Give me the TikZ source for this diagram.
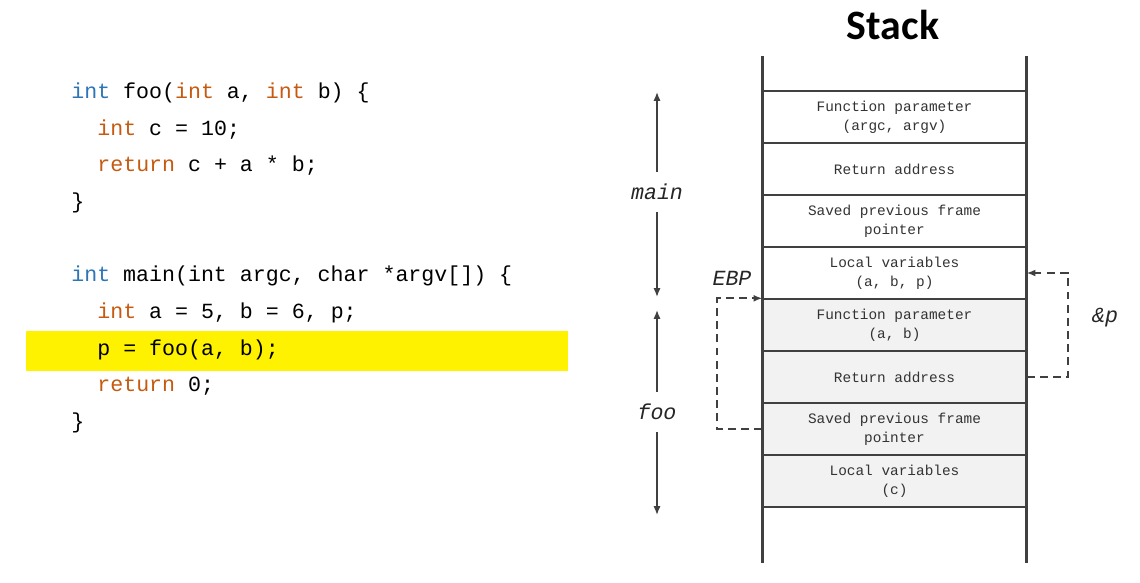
\documentclass[tikz,border=0pt]{standalone}
\usepackage{fontspec}
\setmainfont{Carlito}
\setmonofont{Liberation Mono}
\usetikzlibrary{arrows.meta,positioning}
\definecolor{kwblue}{RGB}{46,117,182}
\definecolor{kworange}{RGB}{197,90,17}
\definecolor{txtgray}{RGB}{64,64,64}
\definecolor{cellgray}{RGB}{242,242,242}
\tikzstyle{maincell} = [draw=txtgray, line width=0.8pt, fill=white, text=black!80, align=center, minimum width=5.26cm, minimum height=1.04cm, inner sep=0pt, font=\ttfamily\fontsize{8.2}{10.8}\selectfont]
\tikzstyle{foocell} = [maincell, fill=cellgray]
\tikzstyle{wall} = [draw, line width=2pt, color=txtgray]
\tikzstyle{span} = [draw, line width=0.8pt, color=txtgray, -{Latex[length=5pt,width=4pt]}]
\tikzstyle{link} = [draw, line width=1.1pt, color=black!75, dash pattern=on 4.5pt off 3pt, -{Latex[length=5pt,width=4pt]}]
\tikzstyle{code} = [anchor=base west, inner sep=0pt, font=\ttfamily\fontsize{12.3}{14}\selectfont]
\tikzstyle{lbl} = [inner sep=0pt, text=black!85, font=\ttfamily\itshape\fontsize{12.3}{14}\selectfont]
\tikzstyle{hilite} = [fill=yellow, minimum width=10.84cm, minimum height=0.8cm, inner sep=0pt]
\newcommand{\kwb}[1]{\textcolor{kwblue}{#1}}
\newcommand{\kwo}[1]{\textcolor{kworange}{#1}}
\newcommand{\mcell}[2]{node (m#1) [maincell] {#2}}
\newcommand{\fcell}[2]{node (f#1) [foocell] {#2}}
\begin{document}
\begin{tikzpicture}[x=0.02cm, y=-0.02cm]
\useasboundingbox (0,0) rectangle (1140,582);

% Source code
\node[hilite] (hl) at (297,351) {};
\node[code] (c1) at (71,98) {\kwb{int} foo(\kwo{int} a, \kwo{int} b) \{};
\node[code] (c2) at (97,135) {\kwo{int} c = 10;};
\node[code] (c3) at (97,171.5) {\kwo{return} c + a * b;};
\node[code] (c4) at (71,208) {\}};
\node[code] (c5) at (71,281) {\kwb{int} main(int argc, char *argv[]) \{};
\node[code] (c6) at (97,318) {\kwo{int} a = 5, b = 6, p;};
\node[code] (c7) at (97,355) {p = foo(a, b);};
\node[code] (c8) at (97,391.5) {\kwo{return} 0;};
\node[code] (c9) at (71,428) {\}};

% Stack frames
\node[font=\bfseries\fontsize{23.8}{28}\selectfont] (title) at (893,25) {Stack};
\path (894.5,117) \mcell{1}{Function parameter\\(argc, argv)};
\path (m1)+(0,52) \mcell{2}{Return address};
\path (m2)+(0,52) \mcell{3}{Saved previous frame\\pointer};
\path (m3)+(0,52) \mcell{4}{Local variables\\(a, b, p)};
\path (m4)+(0,52) \fcell{1}{Function parameter\\(a, b)};
\path (f1)+(0,52) \fcell{2}{Return address};
\path (f2)+(0,52) \fcell{3}{Saved previous frame\\pointer};
\path (f3)+(0,52) \fcell{4}{Local variables\\(c)};
\path [wall] ([yshift=0.68cm]m1.north west) -- ([yshift=-1.1cm]f4.south west);
\path [wall] ([yshift=0.68cm]m1.north east) -- ([yshift=-1.1cm]f4.south east);

% Frame spans
\node[lbl, minimum height=0.8cm] (lmain) at (657,192) {main};
\coordinate (mtop) at (657,92);
\coordinate (mbot) at (657,297);
\path [span] (lmain.north) -- (mtop);
\path [span] (lmain.south) -- (mbot);
\node[lbl, minimum height=0.8cm] (lfoo) at (657,412) {foo};
\coordinate (ftop) at (657,310);
\coordinate (fbot) at (657,515);
\path [span] (lfoo.north) -- (ftop);
\path [span] (lfoo.south) -- (fbot);

% Pointers
\node[lbl] (ebp) at (732,278) {EBP};
\path [link] (f3.west) -- ++(-45,0) |- (f1.north west);
\node[lbl] (addrp) at (1105,318) {\&p};
\path [link] (f2.east) -- ++(41,0) |- (m4.east);
\end{tikzpicture}
\end{document}
